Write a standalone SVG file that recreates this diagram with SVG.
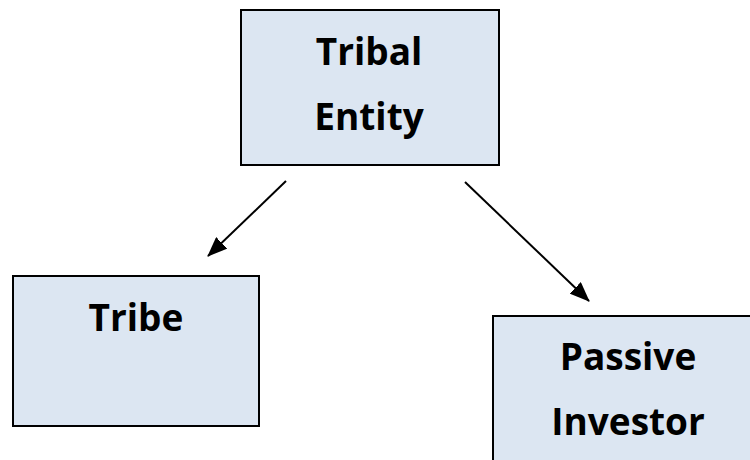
<svg xmlns="http://www.w3.org/2000/svg" width="750" height="460" viewBox="0 0 750 460">
<style>
.box{fill:#dce6f2;stroke:#000;stroke-width:2}
.lbl{font-family:"Open Sans","Liberation Sans",sans-serif;font-weight:bold;font-size:37px;fill:#000;text-anchor:middle;font-variant-ligatures:none}
.conn{stroke:#000;stroke-width:2;fill:none;marker-end:url(#ah)}
</style>
<defs>
<marker id="ah" markerWidth="10" markerHeight="8" refX="9.5" refY="4" orient="auto" markerUnits="strokeWidth">
<path d="M0,0 L10,4 L0,8 Z" fill="#000"/>
</marker>
</defs>
<rect width="750" height="460" fill="#fff"/>
<g id="tribal-entity">
<rect class="box" x="241" y="10" width="258" height="155"/>
<text class="lbl" x="369" y="65">Tribal</text>
<text class="lbl" x="369" y="130">Entity</text>
</g>
<g id="tribe">
<rect class="box" x="13" y="276" width="246" height="150"/>
<text class="lbl" x="136" y="331">Tribe</text>
</g>
<g id="passive-investor">
<rect class="box" x="493" y="316" width="270" height="160"/>
<text class="lbl" x="628" y="370">Passive</text>
<text class="lbl" x="628" y="435">Investor</text>
</g>
<g id="connectors">
<line class="conn" x1="286" y1="181" x2="208" y2="256"/>
<line class="conn" x1="465" y1="182" x2="589" y2="301"/>
</g>
</svg>
